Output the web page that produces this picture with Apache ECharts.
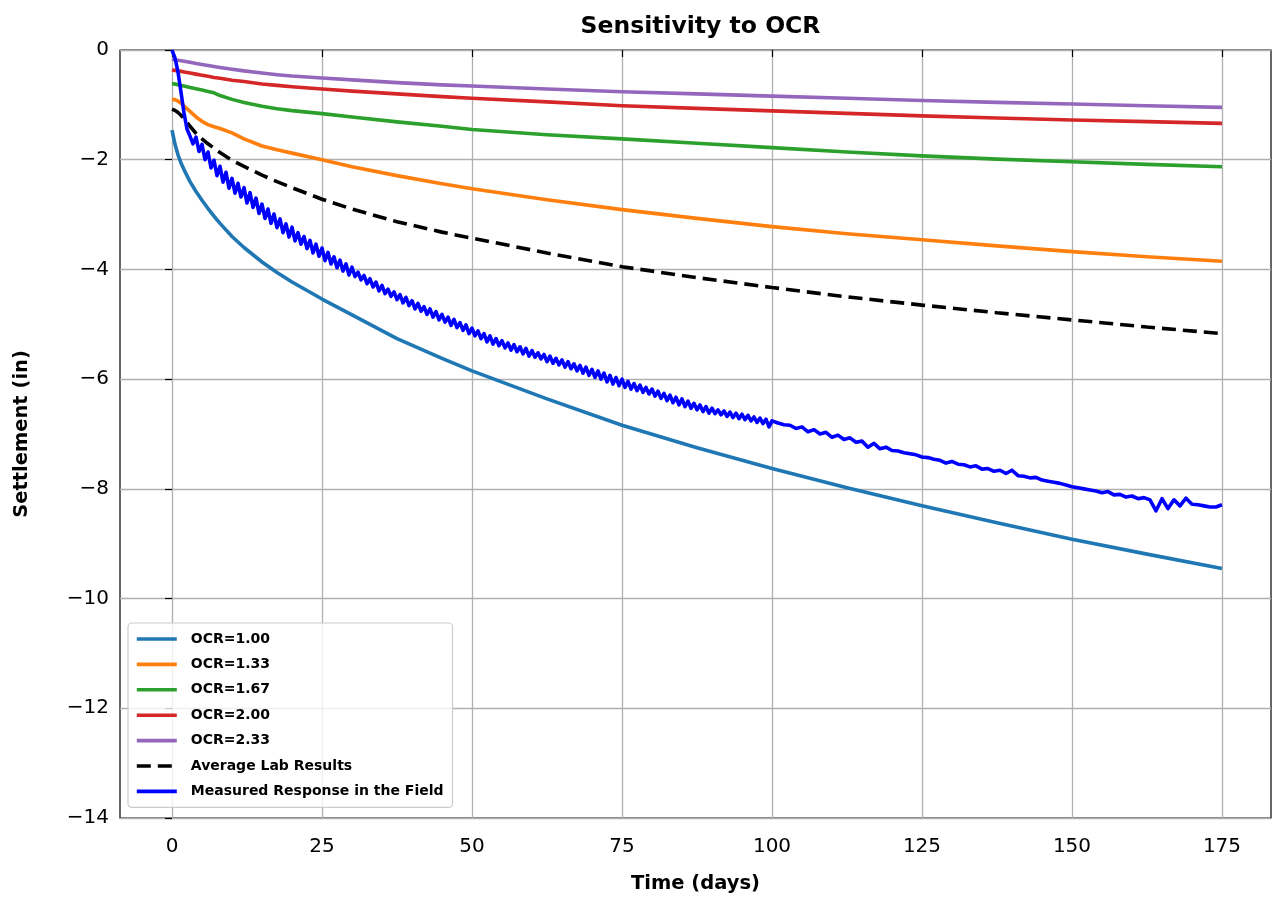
<!DOCTYPE html>
<html>
<head>
<meta charset="utf-8">
<script src="https://cdn.jsdelivr.net/npm/echarts@6/dist/echarts.min.js"></script>
<style>
html,body{margin:0;padding:0;background:#fff;}
#chart{width:1272px;height:899px;}
</style>
</head>
<body>
<div id="chart"></div>
<script>
// ---- data ----
const modelDays = [0, 0.5, 1, 1.5, 2, 3, 4, 5, 6, 7, 8, 10, 12, 15, 17.5, 20, 25, 30, 37.5, 45, 50, 62.5, 75, 87.5, 100, 112.5, 125, 137.5, 150, 162.5, 175];
const ocr100 = [-1.46, -1.72, -1.91, -2.06, -2.18, -2.40, -2.58, -2.74, -2.89, -3.03, -3.16, -3.40, -3.60, -3.865, -4.055, -4.23, -4.54, -4.83, -5.26, -5.62, -5.85, -6.36, -6.84, -7.25, -7.63, -7.98, -8.31, -8.62, -8.92, -9.19, -9.45];
const ocr133 = [-0.90, -0.905, -0.93, -0.97, -1.02, -1.12, -1.22, -1.30, -1.36, -1.40, -1.43, -1.51, -1.62, -1.75, -1.82, -1.88, -2.00, -2.13, -2.29, -2.44, -2.53, -2.73, -2.91, -3.07, -3.22, -3.35, -3.46, -3.57, -3.676, -3.77, -3.85];
const ocr167 = [-0.61, -0.622, -0.634, -0.646, -0.658, -0.682, -0.706, -0.73, -0.755, -0.78, -0.83, -0.90, -0.955, -1.025, -1.07, -1.105, -1.16, -1.22, -1.31, -1.39, -1.45, -1.545, -1.62, -1.70, -1.78, -1.86, -1.93, -1.99, -2.036, -2.085, -2.127];
const ocr200 = [-0.365, -0.372, -0.38, -0.39, -0.40, -0.42, -0.44, -0.46, -0.48, -0.50, -0.515, -0.55, -0.575, -0.62, -0.645, -0.67, -0.71, -0.75, -0.80, -0.85, -0.88, -0.945, -1.015, -1.065, -1.11, -1.155, -1.20, -1.24, -1.276, -1.305, -1.337];
const ocr233 = [-0.17, -0.178, -0.186, -0.195, -0.205, -0.225, -0.245, -0.265, -0.283, -0.30, -0.318, -0.35, -0.38, -0.42, -0.45, -0.475, -0.51, -0.545, -0.595, -0.635, -0.655, -0.71, -0.76, -0.80, -0.84, -0.88, -0.92, -0.955, -0.985, -1.015, -1.045];
const labAverage = [-1.08, -1.10, -1.14, -1.19, -1.25, -1.39, -1.52, -1.62, -1.71, -1.79, -1.87, -2.01, -2.12, -2.28, -2.40, -2.51, -2.72, -2.90, -3.13, -3.32, -3.43, -3.70, -3.95, -4.15, -4.33, -4.50, -4.65, -4.79, -4.92, -5.05, -5.17];

// field measurements: days 0..100 every 0.5 day, then days 101..175 daily
const fieldEarlyStart = 0, fieldEarlyStep = 0.5;
const fieldEarly = [
  0, -0.15, -0.40, -0.77, -1.15, -1.44, -1.57,
  -1.71, -1.59, -1.85, -1.72, -2.00, -1.86, -2.15, -2.01, -2.29, -2.12, -2.41, -2.23, -2.52, -2.34,
  -2.61, -2.43, -2.68, -2.51, -2.79, -2.60, -2.87, -2.70, -2.98, -2.81, -3.07, -2.90, -3.16, -2.99, -3.24, -3.08, -3.33, -3.17, -3.41, -3.23,
  -3.48, -3.33, -3.54, -3.40, -3.62, -3.47, -3.70, -3.54, -3.76, -3.61, -3.84, -3.69, -3.90, -3.77, -3.97, -3.83, -4.03, -3.90, -4.10, -3.96,
  -4.13, -4.05, -4.19, -4.11, -4.26, -4.17, -4.32, -4.23, -4.39, -4.29, -4.44, -4.36, -4.49, -4.41, -4.55, -4.46, -4.61, -4.51, -4.66, -4.57,
  -4.72, -4.62, -4.76, -4.68, -4.82, -4.72, -4.87, -4.77, -4.92, -4.82, -4.96, -4.87, -5.02, -4.91, -5.06, -4.97, -5.11, -5.01, -5.17, -5.07,
  -5.21, -5.12, -5.26, -5.17, -5.32, -5.21, -5.36, -5.26, -5.39, -5.30, -5.43, -5.34, -5.47, -5.37, -5.50, -5.41, -5.54, -5.44, -5.58, -5.48,
  -5.60, -5.52, -5.63, -5.55, -5.68, -5.58, -5.71, -5.62, -5.74, -5.65, -5.78, -5.68, -5.81, -5.72, -5.85, -5.75, -5.89, -5.78, -5.93, -5.82,
  -5.97, -5.85, -6.00, -5.89, -6.05, -5.93, -6.09, -5.97, -6.12, -6.00, -6.15, -6.04, -6.18, -6.08, -6.21, -6.11, -6.24, -6.15, -6.27, -6.18,
  -6.31, -6.22, -6.35, -6.26, -6.39, -6.29, -6.43, -6.33, -6.47, -6.36, -6.50, -6.40, -6.53, -6.44, -6.56, -6.47, -6.59, -6.50, -6.62, -6.53,
  -6.63, -6.56, -6.65, -6.58, -6.68, -6.60, -6.70, -6.62, -6.72, -6.64, -6.74, -6.66, -6.76, -6.69, -6.79, -6.71, -6.81, -6.73, -6.87, -6.76
];
const fieldLateStart = 101, fieldLateStep = 1;
const fieldLate = [
  -6.80, -6.83, -6.84, -6.90, -6.87, -6.96, -6.92, -7.00, -6.97, -7.06,
  -7.02, -7.10, -7.07, -7.15, -7.13, -7.24, -7.17, -7.27, -7.24, -7.30,
  -7.31, -7.34, -7.36, -7.38, -7.42, -7.43, -7.46, -7.48, -7.53, -7.50,
  -7.55, -7.56, -7.60, -7.58, -7.64, -7.63, -7.68, -7.66, -7.72, -7.66,
  -7.76, -7.77, -7.80, -7.79, -7.84, -7.86, -7.88, -7.90, -7.93, -7.96,
  -7.98, -8.00, -8.02, -8.04, -8.07, -8.05, -8.11, -8.10, -8.15, -8.13,
  -8.18, -8.16, -8.20, -8.40, -8.18, -8.36, -8.20, -8.31, -8.17, -8.28,
  -8.29, -8.31, -8.33, -8.33, -8.29
];

const xTicks = [0, 25, 50, 75, 100, 125, 150, 175];
const seriesNames = ['OCR=1.00', 'OCR=1.33', 'OCR=1.67', 'OCR=2.00', 'OCR=2.33', 'Average Lab Results', 'Measured Response in the Field'];
const titleText = 'Sensitivity to OCR';
const xLabel = 'Time (days)';
const yLabel = 'Settlement (in)';

// ---- build ----
const pair = (xs, ys) => ys.map((y, i) => [xs[i], y]);
const fieldData = fieldEarly.map((y, i) => [fieldEarlyStart + i * fieldEarlyStep, y])
  .concat(fieldLate.map((y, i) => [fieldLateStart + i * fieldLateStep, y]));

const colors = ['#1f77b4', '#ff7f0e', '#2ca02c', '#d62728', '#9467bd', '#000000', '#0000ff'];
const LW = 3.6;
const fontText = '"DejaVu Sans", sans-serif';
const fontTick = '"DejaVu Sans", sans-serif';

function lineSeries(name, data, color, extra) {
  return Object.assign({
    name, type: 'line', data,
    symbol: 'none', showSymbol: false,
    smooth: false,
    lineStyle: { color, width: LW, cap: 'butt', join: 'round' },
    itemStyle: { color },
    emphasis: { disabled: true },
    animation: false
  }, extra || {});
}

const series = [
  lineSeries(seriesNames[0], pair(modelDays, ocr100), colors[0]),
  lineSeries(seriesNames[1], pair(modelDays, ocr133), colors[1]),
  lineSeries(seriesNames[2], pair(modelDays, ocr167), colors[2]),
  lineSeries(seriesNames[3], pair(modelDays, ocr200), colors[3]),
  lineSeries(seriesNames[4], pair(modelDays, ocr233), colors[4]),
  lineSeries(seriesNames[5], pair(modelDays, labAverage), colors[5], {
    lineStyle: { color: colors[5], width: LW, type: [14, 7], cap: 'butt' }
  }),
  lineSeries(seriesNames[6], fieldData, colors[6])
];

const chart = echarts.init(document.getElementById('chart'), null, { renderer: 'canvas' });
chart.setOption({
  animation: false,
  backgroundColor: '#ffffff',
  title: {
    text: titleText,
    left: 695.5, top: 10, textAlign: 'center',
    textStyle: { fontFamily: fontText, fontWeight: 'bold', fontSize: 23.5, color: '#000' }
  },
  grid: {
    left: 120, top: 50, width: 1151, height: 768,
    show: true, borderColor: '#000', borderWidth: 1.2, backgroundColor: 'transparent'
  },
  xAxis: {
    type: 'value',
    min: -8.667, max: 183.17,
    name: xLabel, nameLocation: 'middle', nameGap: 56,
    nameTextStyle: { fontFamily: fontText, fontWeight: 'bold', fontSize: 19.5, color: '#000' },
    axisLine: { show: false },
    axisTick: { show: true, length: 7, lineStyle: { color: '#000', width: 1.2 }, customValues: xTicks },
    axisLabel: { customValues: xTicks, margin: 19, fontFamily: fontTick, fontSize: 20, color: '#000' },
    splitLine: { show: true, lineStyle: { color: '#b0b0b0', width: 1.3 } }
  },
  yAxis: {
    type: 'value',
    min: -14, max: 0, interval: 2,
    name: yLabel, nameLocation: 'middle', nameGap: 88, nameRotate: 90,
    nameTextStyle: { fontFamily: fontText, fontWeight: 'bold', fontSize: 19.5, color: '#000' },
    axisLine: { show: false },
    axisTick: { show: true, length: 7, lineStyle: { color: '#000', width: 1.2 } },
    axisLabel: {
      margin: 11, fontFamily: fontTick, fontSize: 20, color: '#000',
      formatter: v => (v < 0 ? '\u2212' + Math.abs(v) : String(v))
    },
    splitLine: { show: true, lineStyle: { color: '#b0b0b0', width: 1.3 } }
  },
  legend: {
    orient: 'vertical',
    left: 128, top: 623,
    padding: [9, 9, 9, 7],
    itemWidth: 40, itemHeight: 14, itemGap: 11.4,
    backgroundColor: 'rgba(255,255,255,0.8)',
    borderColor: '#cccccc', borderWidth: 1.2, borderRadius: 4,
    itemStyle: { opacity: 0 },
    lineStyle: { width: LW },
    textStyle: { fontFamily: fontText, fontWeight: 'bold', fontSize: 14, lineHeight: 14, color: '#000', padding: [0, 0, 0, 9] },
    data: seriesNames,
    selectedMode: false
  },
  series
});
</script>
</body>
</html>
